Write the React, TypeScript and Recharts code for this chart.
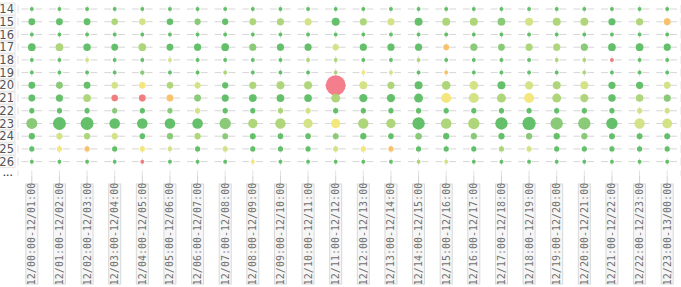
import { ScatterChart, Scatter, XAxis, YAxis, ZAxis, CartesianGrid, Cell } from 'recharts';

const hourLabels = [
  '12/00:00-12/01:00', '12/01:00-12/02:00', '12/02:00-12/03:00', '12/03:00-12/04:00',
  '12/04:00-12/05:00', '12/05:00-12/06:00', '12/06:00-12/07:00', '12/07:00-12/08:00',
  '12/08:00-12/09:00', '12/09:00-12/10:00', '12/10:00-12/11:00', '12/11:00-12/12:00',
  '12/12:00-12/13:00', '12/13:00-12/14:00', '12/14:00-12/15:00', '12/15:00-12/16:00',
  '12/16:00-12/17:00', '12/17:00-12/18:00', '12/18:00-12/19:00', '12/19:00-12/20:00',
  '12/20:00-12/21:00', '12/21:00-12/22:00', '12/22:00-12/23:00', '12/23:00-13/00:00',
];

const rows = [14, 15, 16, 17, 18, 19, 20, 21, 22, 23, 24, 25, 26];
const moreRow = 27;

// request counts per row (top to bottom), one value per hour
const counts = [
  [4, 4, 4, 4, 4, 4, 4, 4, 4, 4, 4, 4, 4, 4, 4, 4, 4, 4, 4, 4, 4, 4, 4, 4],
  [12, 12, 12, 11, 11, 11, 10, 10, 12, 13, 13, 16, 13, 13, 16, 16, 16, 15, 16, 16, 16, 13, 13, 12],
  [4, 4, 4, 4, 4, 4, 4, 4, 4, 4, 4, 4, 4, 4, 4, 4, 4, 4, 4, 4, 4, 4, 4, 4],
  [15, 15, 14, 12, 15, 12, 13, 15, 13, 13, 13, 10, 13, 13, 13, 9, 13, 12, 13, 13, 13, 15, 15, 13],
  [4, 4, 4, 4, 4, 4, 4, 4, 4, 4, 4, 4, 4, 4, 4, 4, 4, 4, 4, 4, 4, 4, 4, 4],
  [4, 4, 4, 4, 5, 4, 4, 4, 4, 4, 4, 4, 4, 4, 4, 4, 4, 4, 4, 4, 4, 4, 4, 4],
  [12, 12, 12, 11, 11, 11, 10, 10, 13, 16, 16, 100, 16, 13, 16, 19, 19, 16, 17, 16, 16, 13, 13, 12],
  [12, 13, 15, 11, 12, 12, 12, 13, 15, 15, 15, 20, 17, 17, 20, 25, 25, 20, 25, 20, 17, 14, 14, 13],
  [7, 7, 7, 7, 7, 7, 7, 7, 7, 7, 7, 7, 7, 7, 7, 7, 7, 7, 7, 7, 7, 7, 7, 7],
  [30, 42, 42, 28, 28, 28, 28, 32, 22, 27, 22, 22, 27, 22, 38, 28, 32, 38, 44, 38, 38, 32, 27, 24],
  [10, 10, 10, 10, 8, 10, 10, 9, 9, 8, 8, 9, 10, 8, 11, 10, 10, 10, 10, 10, 10, 9, 9, 9],
  [7, 7, 7, 7, 7, 6, 7, 7, 7, 7, 7, 7, 7, 7, 7, 7, 7, 7, 7, 7, 7, 7, 7, 7],
  [4, 4, 4, 4, 4, 4, 4, 4, 4, 4, 4, 4, 4, 4, 4, 4, 4, 4, 4, 4, 4, 4, 4, 4],
];

// error level per cell: 0 = healthy ... 7 = worst
const levels = [
  [0, 0, 0, 0, 0, 0, 0, 0, 0, 0, 0, 0, 0, 0, 0, 0, 0, 0, 0, 0, 0, 0, 0, 0],
  [0, 0, 0, 2, 3, 0, 1, 0, 2, 2, 3, 0, 2, 3, 0, 2, 2, 1, 3, 2, 2, 0, 2, 5],
  [0, 0, 0, 0, 0, 0, 0, 0, 0, 0, 0, 0, 0, 0, 0, 0, 0, 0, 0, 0, 0, 0, 0, 0],
  [0, 2, 0, 0, 2, 0, 0, 0, 1, 0, 0, 3, 0, 0, 0, 5, 1, 1, 2, 2, 1, 0, 0, 0],
  [0, 0, 3, 0, 0, 3, 0, 0, 0, 0, 2, 2, 0, 0, 2, 0, 0, 0, 0, 2, 2, 6, 0, 0],
  [0, 0, 0, 0, 1, 0, 0, 2, 0, 0, 0, 2, 4, 3, 0, 5, 0, 0, 0, 0, 2, 0, 0, 0],
  [0, 1, 0, 3, 4, 2, 3, 0, 2, 2, 2, 7, 3, 2, 0, 2, 3, 0, 3, 2, 3, 0, 0, 3],
  [0, 0, 2, 6, 6, 5, 1, 0, 0, 0, 0, 2, 0, 0, 0, 4, 3, 2, 4, 2, 2, 0, 2, 1],
  [0, 0, 0, 1, 0, 1, 3, 0, 0, 2, 3, 0, 0, 0, 0, 0, 0, 0, 0, 0, 0, 0, 3, 3],
  [1, 0, 0, 0, 0, 0, 0, 1, 2, 2, 3, 4, 2, 2, 0, 2, 2, 0, 0, 1, 1, 0, 3, 3],
  [0, 3, 2, 3, 0, 1, 2, 1, 0, 0, 0, 1, 0, 0, 1, 0, 1, 0, 1, 0, 1, 0, 0, 0],
  [0, 4, 5, 0, 4, 3, 0, 3, 0, 0, 0, 3, 4, 5, 0, 0, 0, 2, 3, 0, 0, 0, 0, 0],
  [0, 0, 0, 0, 6, 0, 0, 0, 4, 0, 0, 0, 0, 0, 2, 3, 0, 0, 0, 0, 0, 0, 0, 0],
];

const levelColors = ['#54b95b', '#7dc46a', '#a6d16c', '#cfe07a', '#f3e46f', '#f7bb5e', '#ef7070', '#f4707f'];

const points = rows.flatMap((row, ri) =>
  hourLabels.map((_, ci) => ({ hour: ci, row, count: counts[ri][ci], level: levels[ri][ci] }))
);

function RowTick({ y, payload }: any) {
  if (payload.value === moreRow) {
    return (
      <text x={3} y={y + 1.5} fontSize={7.5} fontWeight="bold" letterSpacing={0.5} fill="#333" fontFamily="DejaVu Sans">
        ...
      </text>
    );
  }
  return (
    <g>
      <rect x={-2} y={y - 6} width={17} height={12} fill="#fbfbfb" stroke="#e4e4e4" />
      <text x={14} y={y} dy="0.36em" textAnchor="end" fontSize={11.5} fill="#555" fontFamily="DejaVu Sans">
        {payload.value}
      </text>
    </g>
  );
}

function HourTick({ x, y, payload }: any) {
  return (
    <g transform={`translate(${x},${y + 48}) rotate(-90)`}>
      <rect x={-50} y={-6} width={100} height={12} fill="#f6f6f6" stroke="#d8d8d8" />
      <text x={0} y={0} dy="0.35em" textAnchor="middle" fontSize={10} fill="#707070" fontFamily="DejaVu Sans Mono">
        {hourLabels[payload.value]}
      </text>
    </g>
  );
}

export default function App() {
  return (
    <div style={{ position: 'absolute', left: 0, top: 0 }}>
      <ScatterChart width={681} height={287} margin={{ top: 0, right: 0, bottom: 0, left: 0 }}>
        <CartesianGrid
          vertical={false}
          horizontalValues={rows}
          stroke="#d6d6d6"
          strokeDasharray="6.8 7"
          strokeDashoffset={10.3}
        />
        <CartesianGrid
          horizontal={false}
          stroke="#e2e2e2"
          strokeDasharray="8 4.72"
          strokeDashoffset={7.72}
        />
        <XAxis
          type="number"
          dataKey="hour"
          domain={[-0.5, 23.5]}
          ticks={hourLabels.map((_, i) => i)}
          interval={0}
          height={111}
          tickSize={10}
          tickMargin={0}
          axisLine={false}
          tickLine={{ stroke: '#d0d0d0' }}
          tick={<HourTick />}
        />
        <YAxis
          type="number"
          dataKey="row"
          reversed
          domain={[13.29, 27.13]}
          ticks={[...rows, moreRow]}
          interval={0}
          width={18}
          tickSize={0}
          tickMargin={2}
          axisLine={false}
          tickLine={false}
          allowDataOverflow
          tick={<RowTick />}
        />
        <ZAxis type="number" dataKey="count" domain={[0, 100]} range={[0, 314]} />
        <Scatter data={points} isAnimationActive={false} fillOpacity={0.9}>
          {points.map((p, i) => (
            <Cell key={i} fill={levelColors[p.level]} />
          ))}
        </Scatter>
      </ScatterChart>
    </div>
  );
}
